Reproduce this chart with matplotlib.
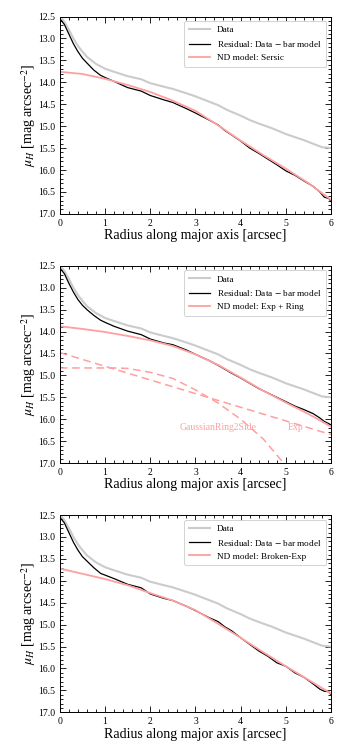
import numpy as np
import matplotlib
matplotlib.use("Agg")
import matplotlib.pyplot as plt
from matplotlib.ticker import MultipleLocator, FormatStrFormatter

plt.rcParams['font.family'] = ['Liberation Serif', 'DejaVu Serif']
plt.rcParams['mathtext.fontset'] = 'stix'

# observed profile (same in all panels)
r_data = [0.0, 0.1, 0.2, 0.3, 0.4, 0.5, 0.6, 0.8, 1.0, 1.2, 1.5, 1.8, 2.0, 2.3, 2.5,
          2.8, 3.0, 3.2, 3.5, 3.7, 4.0, 4.2, 4.4, 4.7, 5.0, 5.2, 5.4, 5.6, 5.8, 6.0]
mu_data = [12.48, 12.62, 12.8, 13.0, 13.17, 13.3, 13.42, 13.58, 13.69, 13.76, 13.86, 13.93, 14.02, 14.1, 14.15,
           14.25, 14.32, 14.4, 14.52, 14.63, 14.76, 14.86, 14.94, 15.05, 15.18, 15.25, 15.32, 15.4, 15.48, 15.5]

# residual (data - bar model) per panel
r_res = [0.0, 0.1, 0.2, 0.3, 0.4, 0.5, 0.6, 0.75, 0.9, 1.0, 1.2, 1.5, 1.8, 2.0, 2.3, 2.5,
         2.8, 3.0, 3.3, 3.5, 3.65, 3.8, 4.0, 4.2, 4.4, 4.6, 4.8, 5.0, 5.2, 5.4, 5.6, 5.75, 5.85, 5.95, 6.0]
mu_res_sersic = [12.55, 12.68, 12.9, 13.12, 13.3, 13.45, 13.56, 13.72, 13.84, 13.89, 13.98, 14.12, 14.2, 14.3, 14.4, 14.46,
                 14.6, 14.7, 14.86, 14.97, 15.1, 15.2, 15.34, 15.5, 15.62, 15.75, 15.88, 16.02, 16.12, 16.25, 16.37, 16.5, 16.62, 16.65, 16.72]
mu_res_ring = [12.55, 12.68, 12.9, 13.1, 13.27, 13.4, 13.5, 13.63, 13.74, 13.79, 13.88, 13.99, 14.07, 14.17, 14.26, 14.3,
               14.42, 14.52, 14.66, 14.77, 14.86, 14.95, 15.06, 15.18, 15.3, 15.4, 15.5, 15.6, 15.7, 15.78, 15.87, 15.97, 16.05, 16.1, 16.13]
mu_res_broken = [12.55, 12.68, 12.9, 13.12, 13.3, 13.45, 13.55, 13.7, 13.83, 13.87, 13.95, 14.08, 14.16, 14.3, 14.4, 14.45,
                 14.58, 14.68, 14.84, 14.93, 15.05, 15.14, 15.3, 15.45, 15.6, 15.72, 15.87, 15.95, 16.1, 16.2, 16.35, 16.47, 16.52, 16.53, 16.6]

# models
r_mod = [0.0, 0.5, 1.0, 1.5, 2.0, 2.5, 3.0, 3.5, 4.0, 4.5, 5.0, 5.5, 6.0]
mu_sersic = [13.76, 13.81, 13.92, 14.06, 14.22, 14.42, 14.65, 14.98, 15.33, 15.66, 15.97, 16.3, 16.68]
mu_expring = [13.88, 13.94, 14.01, 14.1, 14.2, 14.33, 14.52, 14.76, 15.05, 15.35, 15.62, 15.88, 16.17]
mu_broken = [13.72, 13.84, 13.96, 14.1, 14.28, 14.45, 14.67, 14.98, 15.3, 15.63, 15.95, 16.26, 16.57]

# components of Exp + Ring
r_exp = [0.0, 6.0]
mu_exp = [14.48, 16.35]
r_ring = [0.0, 1.2, 1.5, 2.0, 2.5, 3.0, 3.5, 4.0, 4.5, 4.95]
mu_ring = [14.83, 14.83, 14.84, 14.93, 15.07, 15.33, 15.63, 16.0, 16.45, 17.0]

residuals = [mu_res_sersic, mu_res_ring, mu_res_broken]
models = [mu_sersic, mu_expring, mu_broken]
model_names = ['Sersic', 'Exp + Ring', 'Broken-Exp']

gray = '#cbcbcb'
pink = '#ff9f9f'

fig = plt.figure(figsize=(3.5, 7.53), dpi=100)
bottoms = [0.716, 0.385, 0.054]

for i in range(3):
    ax = fig.add_axes([0.171, bottoms[i], 0.775, 0.262])
    ax.plot(r_data, mu_data, color=gray, lw=1.5, label='Data')
    ax.plot(r_res, residuals[i], color='k', lw=0.9, label='Residual: Data $-$ bar model')
    ax.plot(r_mod, models[i], color=pink, lw=1.3, label='ND model: ' + model_names[i])
    if i == 1:
        ax.plot(r_exp, mu_exp, color=pink, lw=1.1, ls=(0, (5, 3)))
        ax.plot(r_ring, mu_ring, color=pink, lw=1.1, ls=(0, (5, 3)))
        ax.text(2.65, 16.25, 'GaussianRing2Side', color=pink, fontsize=7)
        ax.text(5.05, 16.25, 'Exp', color=pink, fontsize=7)
    ax.set_xlim(0, 6)
    ax.set_ylim(17.0, 12.5)
    ax.xaxis.set_major_locator(MultipleLocator(1))
    ax.xaxis.set_minor_locator(MultipleLocator(0.2))
    ax.yaxis.set_major_locator(MultipleLocator(0.5))
    ax.yaxis.set_minor_locator(MultipleLocator(0.1))
    ax.yaxis.set_major_formatter(FormatStrFormatter('%.1f'))
    ax.tick_params(which='both', direction='in', top=True, right=True, labelsize=7, width=0.6)
    ax.tick_params(which='major', length=4)
    ax.tick_params(which='minor', length=2)
    for s in ax.spines.values():
        s.set_linewidth(0.7)
    ax.set_xlabel('Radius along major axis [arcsec]', fontsize=10, labelpad=1)
    ax.set_ylabel(r'$\mu_H$ [mag arcsec$^{-2}$]', fontsize=10, labelpad=0)
    leg = ax.legend(loc='upper right', fontsize=6.7, handlelength=2.2, borderpad=0.5,
                    labelspacing=0.5, framealpha=1, edgecolor='#cccccc', fancybox=True)
    leg.get_frame().set_linewidth(0.6)

fig.savefig('out.png', dpi=100)
